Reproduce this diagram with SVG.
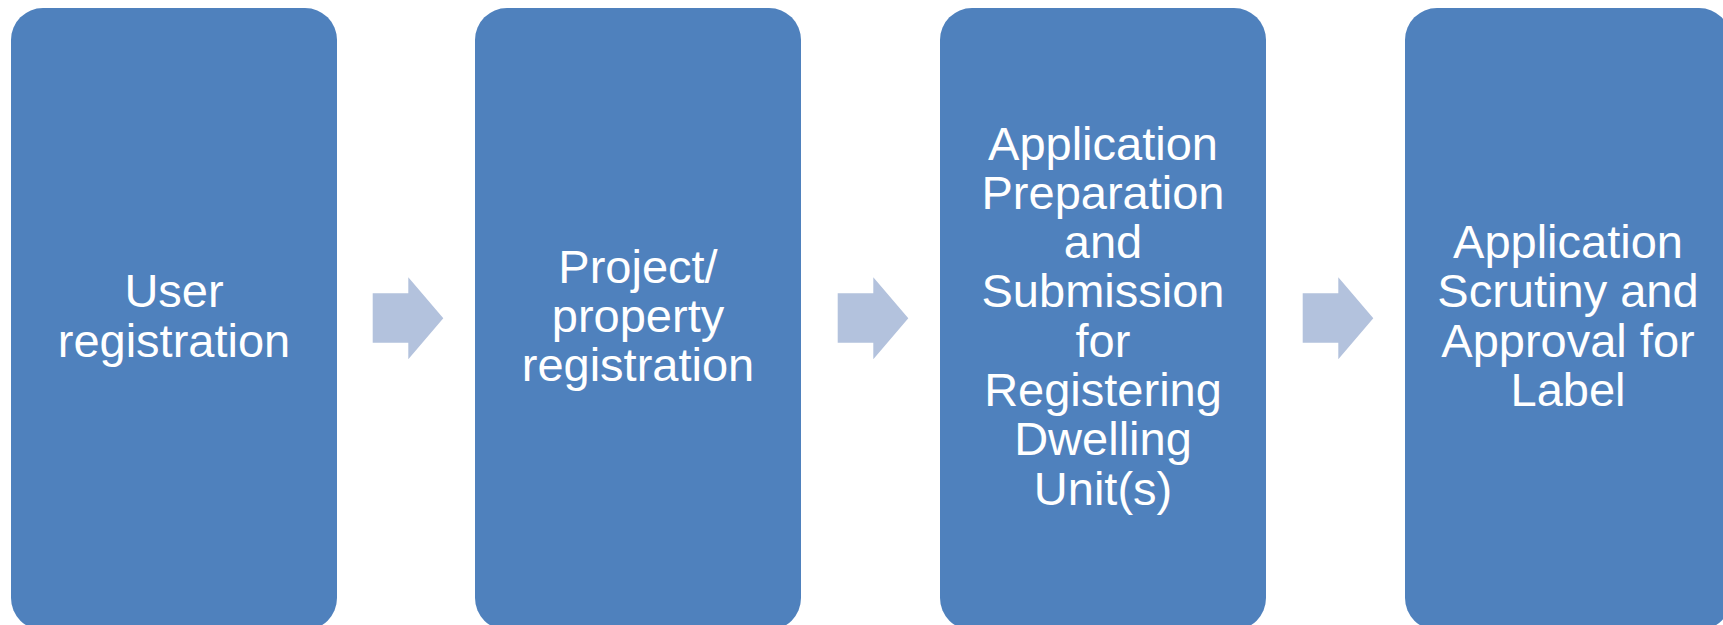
<svg xmlns="http://www.w3.org/2000/svg" width="1723" height="625" viewBox="0 0 1723 625">
<defs>
<style>
.box{fill:#4F81BD;}
.lbl{fill:#FFFFFF;font-family:"Liberation Sans",Arial,sans-serif;font-size:47px;text-anchor:middle;}
.arr{fill:#B3C2DD;}
</style>
<polygon id="arrowShape" class="arr" points="0,0 35.6,0 35.6,-16 70.6,25 35.6,66 35.6,49.4 0,49.4"/>
</defs>
<rect width="1723" height="625" fill="#FFFFFF"/>
<g id="connectors">
<use href="#arrowShape" x="372.7" y="293.3"/>
<use href="#arrowShape" x="837.7" y="293.3"/>
<use href="#arrowShape" x="1302.7" y="293.3"/>
</g>
<g id="node1">
<rect class="box" x="11" y="8" width="326" height="622" rx="32" ry="32"/>
<text class="lbl"><tspan x="174" y="307.3">User</tspan><tspan x="174" y="356.6">registration</tspan></text>
</g>
<g id="node2">
<rect class="box" x="475" y="8" width="326" height="622" rx="32" ry="32"/>
<text class="lbl"><tspan x="638" y="282.7">Project/</tspan><tspan x="638" y="332">property</tspan><tspan x="638" y="381.3">registration</tspan></text>
</g>
<g id="node3">
<rect class="box" x="940" y="8" width="326" height="622" rx="32" ry="32"/>
<text class="lbl"><tspan x="1103" y="159.5">Application</tspan><tspan x="1103" y="208.8">Preparation</tspan><tspan x="1103" y="258.1">and</tspan><tspan x="1103" y="307.4">Submission</tspan><tspan x="1103" y="356.7">for</tspan><tspan x="1103" y="406">Registering</tspan><tspan x="1103" y="455.3">Dwelling</tspan><tspan x="1103" y="504.6">Unit(s)</tspan></text>
</g>
<g id="node4">
<rect class="box" x="1405" y="8" width="326" height="622" rx="32" ry="32"/>
<text class="lbl"><tspan x="1568" y="258.1">Application</tspan><tspan x="1568" y="307.4">Scrutiny and</tspan><tspan x="1568" y="356.7">Approval for</tspan><tspan x="1568" y="406">Label</tspan></text>
</g>
</svg>
